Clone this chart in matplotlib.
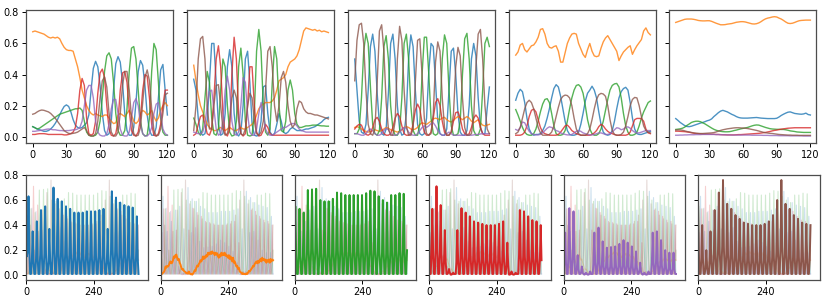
import numpy as np
import matplotlib.pyplot as plt

# ============================================================
# DATA
# ============================================================

# top row: five windows of 120 steps, sampled every 2 steps
t_top = np.arange(0, 121, 2)

# panel 1
p1_blue = [.065, .058, .05, .045, .04, .035, .035, .04, .05, .065, .085, .11, .14, .17, .195, .205, .195, .16, .11, .075, .06, .055, .06, .075, .09, .14, .3, .44, .485, .45, .33, .15, .04, .01, .02, .1, .3, .47, .515, .48, .35, .15, .04, .01, .01, .06, .22, .42, .49, .46, .33, .14, .04, .01, .01, .06, .25, .43, .465, .3, .14]
p1_orange = [.675, .68, .675, .67, .665, .66, .65, .64, .635, .64, .635, .64, .63, .6, .575, .56, .555, .555, .55, .5, .45, .38, .3, .25, .2, .17, .15, .14, .15, .14, .135, .13, .14, .14, .12, .1, .085, .09, .14, .15, .14, .13, .15, .17, .14, .1, .085, .1, .15, .17, .16, .14, .15, .17, .13, .1, .12, .17, .2, .22, .2]
p1_green = [.065, .058, .05, .055, .065, .075, .085, .095, .105, .115, .125, .135, .145, .15, .155, .16, .165, .17, .175, .18, .18, .185, .17, .1, .03, .01, .005, .005, .01, .03, .1, .25, .42, .52, .54, .5, .35, .15, .04, .01, .01, .04, .18, .42, .57, .58, .5, .3, .1, .02, .005, .01, .12, .42, .6, .56, .35, .12, .03, .01, .01]
p1_red = [.015, .015, .018, .02, .02, .02, .018, .015, .015, .015, .015, .015, .015, .015, .012, .012, .015, .02, .03, .06, .15, .3, .375, .33, .12, .02, .01, .02, .1, .28, .41, .435, .38, .2, .05, .01, .005, .02, .1, .3, .41, .42, .35, .17, .04, .01, .005, .03, .12, .3, .4, .39, .25, .08, .01, .005, .02, .08, .2, .3, .3]
p1_purple = [.035, .035, .038, .04, .042, .045, .048, .05, .048, .045, .045, .042, .04, .04, .038, .04, .04, .042, .045, .045, .05, .06, .1, .2, .3, .33, .33, .25, .1, .03, .01, .005, .005, .02, .08, .18, .24, .24, .15, .05, .01, .005, .005, .03, .12, .22, .245, .2, .08, .02, .005, .005, .02, .06, .15, .21, .22, .15, .05, .02, .01]
p1_brown = [.145, .15, .16, .168, .172, .17, .165, .16, .15, .135, .12, .1, .08, .06, .04, .03, .022, .02, .022, .025, .03, .04, .05, .06, .04, .01, .005, .005, .02, .1, .25, .36, .385, .32, .15, .03, .005, .005, .03, .15, .33, .42, .42, .3, .12, .02, .005, .01, .06, .22, .38, .43, .36, .18, .04, .005, .01, .05, .15, .27, .28]

# panel 2
p2_blue = [.37, .3, .12, .03, .01, .02, .1, .35, .6, .6, .35, .08, .01, .02, .15, .45, .56, .45, .15, .02, .005, .03, .2, .5, .55, .35, .08, .01, .005, .01, .1, .32, .33, .15, .03, .01, .02, .08, .15, .1, .03, .02, .03, .05, .06, .05, .04, .04, .04, .045, .05, .05, .055, .06, .065, .075, .085, .095, .11, .12, .125]
p2_orange = [.46, .36, .27, .2, .16, .12, .08, .06, .05, .04, .04, .05, .06, .05, .04, .05, .06, .05, .04, .04, .05, .06, .05, .05, .06, .07, .08, .1, .14, .18, .2, .21, .22, .22, .22, .23, .25, .3, .36, .37, .38, .4, .45, .48, .49, .5, .52, .56, .62, .68, .7, .695, .69, .685, .69, .68, .685, .675, .68, .675, .67]
p2_green = [.12, .08, .03, .01, .05, .25, .42, .35, .12, .02, .01, .05, .3, .5, .45, .2, .03, .005, .01, .1, .45, .57, .4, .1, .01, .005, .01, .15, .55, .69, .55, .2, .03, .01, .05, .35, .58, .5, .2, .04, .03, .1, .3, .365, .3, .15, .08, .06, .06, .065, .07, .07, .072, .075, .075, .075, .072, .07, .07, .068, .068]
p2_red = [.01, .02, .08, .13, .14, .08, .02, .01, .05, .25, .5, .585, .45, .15, .02, .005, .05, .4, .64, .5, .15, .02, .005, .02, .2, .45, .45, .2, .03, .005, .01, .04, .08, .06, .02, .01, .01, .01, .01, .01, .01, .01, .01, .01, .01, .01, .01, .01, .01, .01, .01, .01, .01, .01, .01, .01, .01, .01, .01, .01, .01]
p2_purple = [.03, .025, .02, .02, .03, .08, .2, .29, .3, .18, .05, .01, .02, .1, .3, .39, .3, .1, .02, .01, .03, .2, .38, .35, .15, .03, .01, .01, .05, .15, .22, .15, .05, .02, .01, .01, .02, .03, .04, .05, .06, .06, .07, .08, .085, .085, .07, .05, .04, .035, .03, .03, .03, .03, .03, .03, .03, .03, .03, .03, .03]
p2_brown = [.04, .2, .5, .63, .645, .5, .2, .05, .05, .2, .33, .335, .2, .05, .01, .02, .1, .25, .3, .25, .1, .02, .01, .05, .2, .28, .25, .1, .02, .01, .03, .1, .3, .55, .58, .45, .2, .1, .2, .38, .42, .35, .2, .1, .06, .08, .18, .23, .22, .18, .16, .15, .15, .145, .14, .14, .135, .13, .125, .12, .115]

# panel 3
p3_blue = [.5, .3, .1, .03, .02, .08, .3, .58, .66, .55, .28, .08, .02, .01, .05, .28, .6, .66, .5, .2, .05, .01, .02, .15, .5, .655, .58, .3, .08, .02, .01, .02, .12, .42, .6, .58, .35, .1, .02, .01, .01, .05, .3, .55, .57, .4, .15, .03, .01, .01, .04, .2, .5, .6, .52, .25, .06, .02, .02, .18, .32]
p3_orange = [.06, .065, .06, .05, .04, .035, .03, .035, .04, .045, .04, .035, .04, .05, .06, .055, .045, .04, .035, .03, .035, .045, .06, .065, .06, .05, .045, .05, .06, .08, .09, .085, .08, .09, .1, .115, .12, .115, .11, .12, .125, .11, .1, .095, .105, .12, .13, .12, .11, .12, .13, .12, .1, .09, .1, .11, .09, .075, .07, .075, .08]
p3_green = [.02, .02, .05, .25, .55, .665, .6, .32, .08, .02, .01, .04, .25, .58, .65, .5, .2, .05, .01, .01, .04, .25, .6, .66, .5, .2, .04, .01, .01, .08, .4, .64, .64, .4, .12, .02, .01, .02, .15, .5, .655, .6, .3, .07, .01, .01, .02, .1, .4, .63, .665, .5, .2, .04, .01, .01, .05, .3, .6, .64, .58]
p3_red = [.05, .07, .08, .075, .04, .015, .01, .02, .06, .11, .125, .1, .05, .02, .01, .01, .02, .06, .12, .15, .13, .07, .02, .01, .01, .02, .08, .17, .21, .18, .09, .03, .01, .01, .03, .12, .22, .245, .2, .1, .03, .01, .01, .03, .1, .155, .16, .12, .05, .02, .01, .02, .06, .12, .14, .12, .06, .02, .01, .01, .01]
p3_purple = [.02, .02, .015, .01, .01, .02, .04, .05, .04, .02, .01, .01, .02, .04, .055, .045, .02, .01, .01, .015, .03, .05, .06, .055, .03, .015, .01, .01, .02, .04, .06, .07, .06, .07, .085, .09, .07, .04, .02, .01, .01, .02, .03, .02, .01, .01, .01, .01, .01, .01, .01, .01, .01, .012, .015, .015, .018, .02, .02, .02, .02]
p3_brown = [.36, .62, .72, .73, .6, .3, .08, .02, .01, .05, .35, .68, .72, .55, .22, .05, .01, .01, .1, .5, .71, .62, .3, .07, .01, .01, .05, .35, .62, .63, .4, .12, .02, .01, .02, .15, .48, .61, .55, .25, .06, .01, .01, .03, .15, .45, .575, .52, .25, .06, .01, .01, .02, .12, .45, .66, .69, .5, .2, .05, .02]

# panel 4
p4_blue = [.235, .28, .305, .29, .22, .12, .05, .02, .01, .015, .015, .02, .04, .07, .12, .18, .25, .31, .335, .32, .26, .18, .1, .04, .015, .01, .01, .015, .03, .08, .15, .23, .28, .3, .325, .3, .25, .16, .08, .03, .015, .01, .015, .04, .1, .18, .25, .29, .31, .318, .3, .22, .12, .05, .02, .015, .015, .02, .025, .03, .035]
p4_orange = [.525, .545, .59, .6, .56, .545, .565, .585, .59, .61, .64, .69, .695, .66, .6, .575, .57, .58, .585, .55, .48, .48, .54, .6, .635, .66, .665, .66, .6, .565, .53, .51, .56, .6, .55, .52, .515, .52, .57, .61, .635, .65, .625, .6, .575, .55, .49, .52, .545, .56, .575, .585, .53, .56, .585, .605, .625, .68, .7, .67, .655]
p4_green = [.175, .14, .1, .06, .03, .015, .01, .01, .02, .05, .1, .16, .21, .24, .245, .22, .15, .07, .02, .01, .01, .015, .04, .1, .18, .25, .3, .33, .335, .32, .28, .2, .11, .05, .02, .01, .01, .02, .05, .1, .17, .24, .3, .33, .34, .343, .32, .25, .15, .07, .03, .01, .01, .015, .03, .07, .12, .16, .19, .22, .23]
p4_red = [.01, .01, .01, .015, .03, .07, .13, .17, .178, .16, .11, .06, .03, .02, .015, .01, .01, .01, .01, .015, .03, .05, .07, .075, .06, .04, .03, .02, .015, .01, .01, .01, .01, .01, .015, .025, .04, .065, .08, .07, .05, .035, .025, .02, .015, .01, .01, .01, .01, .01, .015, .03, .07, .11, .118, .118, .117, .1, .05, .025, .02]
p4_purple = [.047, .04, .06, .095, .09, .06, .035, .02, .015, .012, .012, .015, .025, .04, .055, .064, .06, .05, .04, .035, .025, .02, .015, .012, .012, .015, .025, .035, .04, .035, .025, .02, .015, .012, .012, .015, .02, .025, .025, .02, .015, .015, .02, .03, .045, .058, .055, .045, .05, .06, .064, .055, .04, .03, .025, .025, .03, .035, .04, .04, .04]
p4_brown = [.02, .03, .06, .12, .18, .22, .235, .22, .18, .12, .06, .025, .01, .01, .01, .015, .03, .07, .13, .19, .24, .26, .268, .265, .25, .2, .12, .05, .02, .01, .01, .01, .02, .05, .11, .18, .24, .27, .279, .275, .26, .2, .11, .04, .015, .01, .01, .015, .03, .07, .13, .2, .24, .253, .25, .2, .13, .07, .04, .03, .025]

# panel 5
p5_blue = [.117, .105, .092, .082, .072, .066, .065, .068, .073, .078, .083, .088, .092, .097, .103, .107, .115, .13, .142, .155, .165, .17, .165, .16, .152, .144, .138, .13, .124, .121, .12, .12, .12, .121, .122, .123, .124, .122, .12, .119, .118, .117, .117, .117, .117, .119, .127, .137, .145, .152, .158, .16, .155, .15, .148, .146, .145, .147, .152, .143, .14]
p5_orange = [.735, .74, .745, .75, .755, .757, .757, .757, .755, .752, .748, .746, .745, .745, .746, .746, .742, .736, .73, .725, .72, .72, .721, .724, .726, .728, .732, .736, .738, .74, .74, .738, .734, .73, .726, .725, .727, .732, .74, .75, .758, .763, .766, .77, .772, .77, .763, .757, .748, .738, .73, .728, .73, .735, .741, .746, .748, .749, .75, .75, .75]
p5_green = [.047, .049, .051, .055, .062, .073, .082, .092, .097, .1, .1, .097, .09, .083, .074, .065, .056, .048, .042, .038, .035, .033, .032, .032, .033, .036, .04, .043, .047, .051, .054, .057, .06, .065, .07, .074, .076, .075, .07, .065, .06, .056, .052, .05, .049, .048, .048, .047, .047, .045, .042, .038, .036, .034, .031, .03, .029, .028, .028, .028, .028]
p5_red = [.036, .036, .035, .034, .033, .031, .029, .026, .023, .021, .02, .019, .018, .017, .017, .017, .016, .016, .015, .015, .014, .013, .013, .012, .012, .012, .012, .013, .014, .014, .015, .016, .017, .018, .019, .02, .021, .022, .024, .026, .028, .031, .034, .038, .041, .043, .046, .049, .051, .053, .055, .056, .057, .058, .058, .058, .058, .058, .058, .058, .058]
p5_purple = [.01, .01, .011, .011, .012, .012, .013, .013, .013, .014, .014, .014, .015, .015, .015, .015, .015, .015, .014, .014, .013, .013, .012, .012, .012, .011, .011, .011, .011, .011, .011, .011, .011, .011, .01, .01, .01, .01, .01, .009, .009, .009, .008, .008, .008, .008, .007, .007, .007, .007, .007, .006, .006, .006, .006, .006, .006, .005, .005, .005, .005]
p5_brown = [.043, .044, .044, .042, .038, .034, .031, .028, .025, .023, .022, .021, .021, .022, .023, .024, .025, .027, .031, .036, .041, .045, .048, .051, .053, .055, .057, .058, .058, .057, .056, .055, .053, .05, .047, .044, .041, .037, .033, .029, .026, .024, .022, .021, .019, .017, .015, .014, .013, .012, .011, .011, .01, .01, .01, .009, .009, .009, .009, .009, .009]

# bottom row: one long run, five samples per oscillation cycle
t_bot = np.arange(136) * 2.95

bot_blue = [
    .50, .15, .19, .63, .19,
    .01, .01, .11, .35, .11,
    .01, .01, .13, .43, .13,
    .01, .01, .16, .52, .16,
    .01, .01, .17, .55, .17,
    .01, .01, .11, .37, .11,
    .01, .01, .21, .70, .21,
    .01, .01, .18, .61, .18,
    .01, .01, .18, .59, .18,
    .01, .01, .17, .55, .17,
    .01, .01, .16, .53, .16,
    .01, .01, .15, .50, .15,
    .01, .01, .15, .50, .15,
    .01, .01, .15, .50, .15,
    .01, .01, .15, .51, .15,
    .01, .01, .15, .51, .15,
    .01, .01, .15, .51, .15,
    .01, .01, .16, .52, .16,
    .01, .01, .16, .53, .16,
    .01, .01, .11, .37, .11,
    .01, .01, .20, .67, .20,
    .01, .01, .19, .62, .19,
    .01, .01, .17, .58, .17,
    .01, .01, .17, .56, .17,
    .01, .01, .17, .55, .17,
    .01, .01, .16, .54, .16,
    .01, .01, .14, .47, .14,
    .01]
bot_orange = [
    .005, .008, .012, .02, .025,
    .04, .07, .06, .075, .07,
    .08, .1, .11, .095, .1,
    .12, .15, .14, .16, .165,
    .14, .12, .13, .1, .085,
    .06, .045, .05, .035, .03,
    .025, .015, .02, .012, .03,
    .015, .008, .01, .005, .012,
    .025, .04, .035, .06, .077,
    .07, .09, .1, .12, .11,
    .125, .15, .13, .15, .14,
    .16, .15, .18, .165, .17,
    .185, .17, .19, .175, .18,
    .16, .18, .165, .175, .15,
    .14, .165, .15, .18, .16,
    .175, .16, .18, .155, .165,
    .15, .14, .16, .13, .15,
    .13, .11, .14, .1, .11,
    .09, .07, .075, .05, .06,
    .03, .025, .02, .01, .015,
    .01, .012, .008, .015, .01,
    .02, .035, .03, .04, .05,
    .06, .075, .07, .09, .1,
    .11, .095, .115, .1, .12,
    .13, .11, .14, .12, .13,
    .115, .125, .1, .12, .11,
    .125, .1, .13, .11, .125,
    .12]
bot_green = [
    .30, .55, .17, .01, .01,
    .16, .53, .16, .01, .01,
    .15, .50, .15, .01, .01,
    .20, .68, .20, .01, .01,
    .21, .685, .21, .01, .01,
    .21, .69, .21, .01, .01,
    .18, .60, .18, .01, .01,
    .18, .59, .18, .01, .01,
    .18, .59, .18, .01, .01,
    .18, .61, .18, .01, .01,
    .20, .66, .20, .01, .01,
    .20, .655, .20, .01, .01,
    .19, .64, .19, .01, .01,
    .19, .64, .19, .01, .01,
    .19, .64, .19, .01, .01,
    .19, .64, .19, .01, .01,
    .19, .64, .19, .01, .01,
    .20, .655, .20, .01, .01,
    .20, .675, .20, .01, .01,
    .20, .67, .20, .01, .01,
    .19, .63, .19, .01, .01,
    .18, .60, .18, .01, .01,
    .17, .58, .17, .01, .01,
    .19, .64, .19, .01, .01,
    .19, .64, .19, .01, .01,
    .20, .655, .20, .01, .01,
    .20, .65, .20, .01, .01,
    .20]
bot_red = [
    .35, .01, .01, .16, .53,
    .16, .01, .01, .21, .71,
    .21, .01, .01, .17, .56,
    .17, .01, .01, .11, .36,
    .11, .01, .01, .02, .05,
    .02, .005, .005, .01, .02,
    .01, .01, .01, .11, .36,
    .11, .01, .01, .16, .535,
    .16, .01, .01, .15, .50,
    .15, .01, .01, .14, .47,
    .14, .01, .01, .13, .43,
    .13, .01, .01, .13, .42,
    .13, .01, .01, .12, .41,
    .12, .01, .01, .12, .40,
    .12, .01, .01, .12, .40,
    .12, .01, .01, .12, .40,
    .12, .01, .01, .12, .41,
    .12, .01, .01, .13, .43,
    .13, .01, .01, .08, .26,
    .08, .005, .005, .01, .03,
    .01, .005, .005, .01, .02,
    .01, .01, .01, .16, .52,
    .16, .01, .01, .15, .51,
    .15, .01, .01, .14, .47,
    .14, .01, .01, .13, .44,
    .13, .01, .01, .13, .43,
    .13, .01, .01, .12, .40,
    .12]
bot_purple = [
    .01, .10, .34, .10, .01,
    .01, .16, .535, .16, .01,
    .01, .15, .51, .15, .01,
    .01, .05, .16, .05, .01,
    .01, .02, .07, .02, .01,
    .005, .01, .02, .01, .005,
    .005, .01, .03, .01, .01,
    .01, .10, .34, .10, .01,
    .01, .11, .38, .11, .01,
    .01, .08, .27, .08, .01,
    .01, .07, .22, .07, .01,
    .01, .07, .225, .07, .01,
    .01, .07, .23, .07, .01,
    .01, .08, .25, .08, .01,
    .01, .08, .28, .08, .01,
    .01, .08, .26, .08, .01,
    .01, .07, .23, .07, .01,
    .01, .06, .19, .06, .01,
    .01, .03, .10, .03, .01,
    .005, .01, .02, .01, .005,
    .005, .01, .03, .01, .01,
    .01, .10, .34, .10, .01,
    .01, .11, .35, .11, .01,
    .01, .08, .28, .08, .01,
    .01, .06, .20, .06, .01,
    .01, .05, .18, .05, .01,
    .01, .05, .18, .05, .01,
    .01]
bot_brown = [
    .61, .18, .01, .01, .12,
    .40, .12, .01, .01, .06,
    .20, .06, .01, .01, .11,
    .35, .11, .01, .01, .16,
    .52, .16, .01, .01, .20,
    .66, .20, .01, .01, .23,
    .76, .23, .01, .01, .17,
    .57, .17, .01, .01, .16,
    .53, .16, .01, .01, .14,
    .48, .14, .01, .01, .14,
    .45, .14, .01, .01, .13,
    .42, .13, .01, .01, .12,
    .41, .12, .01, .01, .12,
    .40, .12, .01, .01, .12,
    .40, .12, .01, .01, .12,
    .40, .12, .01, .01, .12,
    .41, .12, .01, .01, .13,
    .43, .13, .01, .01, .14,
    .48, .14, .01, .01, .18,
    .60, .18, .01, .01, .23,
    .76, .23, .01, .01, .17,
    .57, .17, .01, .01, .16,
    .53, .16, .01, .01, .14,
    .48, .14, .01, .01, .14,
    .45, .14, .01, .01, .13,
    .42, .13, .01, .01, .12,
    .41, .12, .01, .01, .12,
    .40]

colors = ['#1f77b4', '#ff7f0e', '#2ca02c', '#d62728', '#9467bd', '#8c564b']

top_panels = [
    [p1_blue, p1_orange, p1_green, p1_red, p1_purple, p1_brown],
    [p2_blue, p2_orange, p2_green, p2_red, p2_purple, p2_brown],
    [p3_blue, p3_orange, p3_green, p3_red, p3_purple, p3_brown],
    [p4_blue, p4_orange, p4_green, p4_red, p4_purple, p4_brown],
    [p5_blue, p5_orange, p5_green, p5_red, p5_purple, p5_brown],
]
bot_series = [bot_blue, bot_orange, bot_green, bot_red, bot_purple, bot_brown]

# ============================================================
# FIGURE
# ============================================================

W, H = 830, 302
fig = plt.figure(figsize=(W / 100, H / 100), dpi=100)

def make_ax(left, top, width, height):
    # pixel box -> figure fraction
    return fig.add_axes([left / W, 1 - (top + height) / H, width / W, height / H])

def style(ax):
    for s in ax.spines.values():
        s.set_color('0.3')
        s.set_linewidth(0.9)
    ax.tick_params(labelsize=7, length=3, width=0.7, pad=2)

# top row
top_lefts = [26, 187, 348, 509, 669]
for i, series in enumerate(top_panels):
    ax = make_ax(top_lefts[i], 10, 147, 133)
    for vals, c in zip(series, colors):
        ax.plot(t_top, vals, color=c, lw=1.0, alpha=0.8)
    ax.set_xlim(-6, 125)
    ax.set_ylim(-0.04, 0.815)
    ax.set_xticks([0, 30, 60, 90, 120])
    ax.set_yticks([0, 0.2, 0.4, 0.6, 0.8])
    if i > 0:
        ax.set_yticklabels([])
    style(ax)

# bottom row: every series faint, one highlighted per panel
bot_lefts = [26, 160.5, 294.5, 429, 563.5, 698]
for i in range(6):
    ax = make_ax(bot_lefts[i], 175, 121.5, 105)
    for j, (vals, c) in enumerate(zip(bot_series, colors)):
        if j != i:
            ax.plot(t_bot, vals, color=c, lw=0.8, alpha=0.22)
    ax.plot(t_bot, bot_series[i], color=colors[i], lw=1.4)
    ax.set_xlim(0, 430)
    ax.set_ylim(-0.038, 0.8)
    ax.set_xticks([0, 240])
    ax.set_yticks([0, 0.2, 0.4, 0.6, 0.8])
    if i > 0:
        ax.set_yticklabels([])
    style(ax)

fig.savefig('out.png', dpi=100)
